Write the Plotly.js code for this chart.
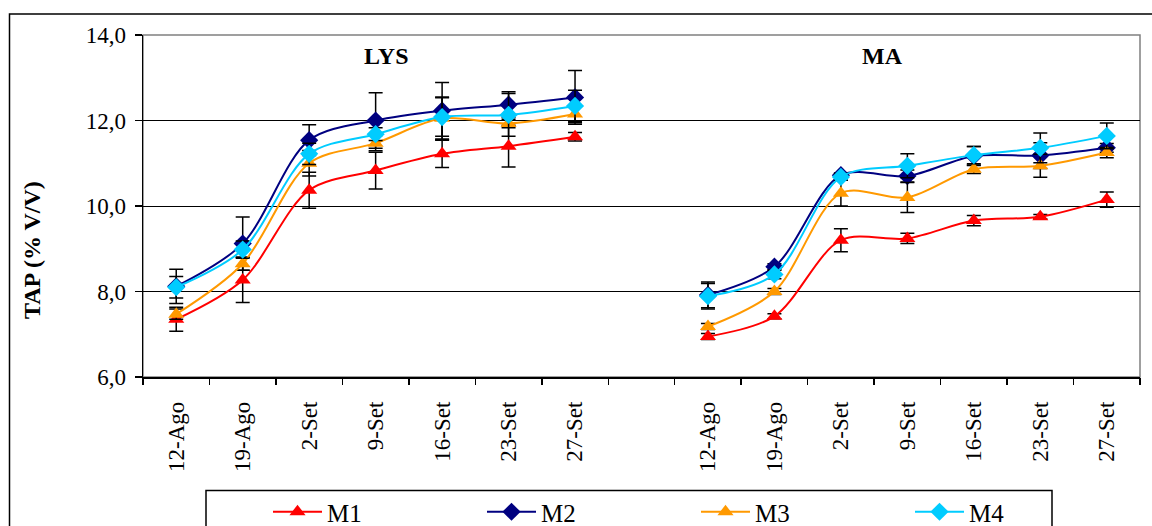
<!DOCTYPE html>
<html>
<head>
<meta charset="utf-8">
<script src="https://cdn.plot.ly/plotly-3.0.1.min.js"></script>
<style>
  html, body { margin: 0; padding: 0; background: #fff; }
  #chart { width: 1152px; height: 526px; }
</style>
</head>
<body>
<div id="chart"></div>
<script>
// Category labels (LYS block, empty separator, MA block)
const dates = ["12-Ago", "19-Ago", "2-Set", "9-Set", "16-Set", "23-Set", "27-Set"];
const groups = ["LYS", "MA"];
const seriesNames = ["M1", "M2", "M3", "M4"];

// LYS values
const lysM1 = [7.35, 8.27, 10.37, 10.83, 11.22, 11.40, 11.62];
const lysM2 = [8.12, 9.12, 11.54, 12.00, 12.23, 12.37, 12.54];
const lysM3 = [7.47, 8.65, 11.00, 11.47, 12.05, 11.93, 12.15];
const lysM4 = [8.10, 8.98, 11.22, 11.68, 12.08, 12.13, 12.34];
// LYS error (±)
const lysM1err = [0.28, 0.53, 0.42, 0.43, 0.32, 0.49, 0.10];
const lysM2err = [0.40, 0.62, 0.36, 0.65, 0.66, 0.30, 0.63];
const lysM3err = [0.12, 0.15, 0.30, 0.18, 0.50, 0.10, 0.20];
const lysM4err = [0.25, 0.20, 0.25, 0.15, 0.45, 0.50, 0.37];

// MA values
const maM1 = [6.95, 7.42, 9.20, 9.24, 9.66, 9.75, 10.15];
const maM2 = [7.92, 8.58, 10.72, 10.70, 11.17, 11.18, 11.36];
const maM3 = [7.18, 8.00, 10.30, 10.20, 10.86, 10.94, 11.25];
const maM4 = [7.89, 8.40, 10.68, 10.94, 11.19, 11.36, 11.64];
// MA error (±)
const maM1err = [0.07, 0.06, 0.27, 0.12, 0.12, 0.05, 0.18];
const maM2err = [0.30, 0.07, 0.05, 0.14, 0.22, 0.30, 0.10];
const maM3err = [0.07, 0.07, 0.30, 0.35, 0.10, 0.27, 0.12];
const maM4err = [0.30, 0.10, 0.08, 0.28, 0.20, 0.35, 0.30];

const yTicks = [6, 8, 10, 12, 14];

// x positions: 0..6 LYS, 7 gap, 8..14 MA
const n = dates.length;
const xPos = [];
for (let i = 0; i < n; i++) xPos.push(i);
xPos.push(n);
for (let i = 0; i < n; i++) xPos.push(n + 1 + i);
const tickVals = xPos.filter(v => v !== n);
const tickText = dates.concat(dates);
const boundaryTicks = [];
for (let i = 0; i <= 2 * n + 1; i++) boundaryTicks.push(i - 0.5);

function join(a, b) { return a.concat([null], b); }

const colors = ["#FF0000", "#000080", "#FF9900", "#00CCFF"];
const symbols = ["triangle-up", "diamond", "triangle-up", "diamond"];
const vals = [join(lysM1, maM1), join(lysM2, maM2), join(lysM3, maM3), join(lysM4, maM4)];
const errs = [join(lysM1err, maM1err), join(lysM2err, maM2err), join(lysM3err, maM3err), join(lysM4err, maM4err)];

const font = "'Liberation Serif', 'Times New Roman', Times, serif";

const traces = seriesNames.map((name, k) => ({
  type: "scatter",
  mode: "lines+markers",
  name: name,
  x: xPos,
  y: vals[k],
  connectgaps: false,
  line: { color: colors[k], width: 2, shape: "spline", smoothing: 0.9 },
  marker: { color: colors[k], symbol: symbols[k], size: 14 },
  error_y: { type: "data", array: errs[k], visible: true, color: "#000000", thickness: 1.5, width: 7 },
  xaxis: "x", yaxis: "y"
}));

// invisible trace carrying boundary tick axis
traces.push({
  type: "scatter", mode: "markers", x: [boundaryTicks[0]], y: [6], xaxis: "x2", yaxis: "y",
  marker: { opacity: 0 }, showlegend: false, hoverinfo: "skip"
});

const W = 997, H = 342, L = 143, T = 35;
const px = v => (v - L) / W;
const py = v => (T + H - v) / H;

const layout = {
  width: 1152, height: 526,
  margin: { l: 143, r: 12, t: 35, b: 149, autoexpand: false },
  paper_bgcolor: "#ffffff",
  plot_bgcolor: "#ffffff",
  separators: ",.",
  font: { family: font, color: "#000000", size: 23 },
  showlegend: true,
  xaxis: {
    range: [-0.5, 2 * n + 0.5],
    tickmode: "array", tickvals: tickVals, ticktext: tickText,
    tickangle: -90, ticks: "", showgrid: false, zeroline: false,
    showline: true, linecolor: "#000000", linewidth: 1.5,
    tickfont: { family: font, size: 23, color: "#000000" },
    ticklabelstandoff: 14, automargin: false
  },
  xaxis2: {
    overlaying: "x", range: [-0.5, 2 * n + 0.5],
    tickmode: "array", tickvals: boundaryTicks, showticklabels: false,
    ticks: "outside", ticklen: 7, tickwidth: 1.5, tickcolor: "#000000",
    showgrid: false, zeroline: false, showline: false, side: "bottom"
  },
  yaxis: {
    range: [6, 14], tickmode: "array", tickvals: yTicks, tickformat: ".1f",
    ticks: "outside", ticklen: 7, tickwidth: 1.5, tickcolor: "#000000",
    showline: true, linecolor: "#000000", linewidth: 1.5,
    showgrid: true, gridcolor: "#000000", gridwidth: 1, zeroline: false,
    tickfont: { family: font, size: 23, color: "#000000" },
    ticklabelstandoff: 4, automargin: false
  },
  legend: {
    orientation: "h", x: px(268), xanchor: "left", y: py(489), yanchor: "top",
    font: { family: font, size: 25, color: "#000000" },
    entrywidth: 150, entrywidthmode: "pixels", itemwidth: 49,
    bgcolor: "rgba(0,0,0,0)", borderwidth: 0
  },
  shapes: [
    { type: "rect", xref: "paper", yref: "paper", x0: 0, x1: 1, y0: 0, y1: 1,
      line: { color: "#808080", width: 1.5 }, layer: "below" },
    { type: "rect", xref: "paper", yref: "paper", x0: px(9.5), x1: px(1160), y0: py(540), y1: py(14),
      line: { color: "#000000", width: 1.5 }, layer: "below" },
    { type: "rect", xref: "paper", yref: "paper", x0: px(206), x1: px(1052), y0: py(540), y1: py(490.5),
      line: { color: "#000000", width: 1.5 }, layer: "below" }
  ],
  annotations: [
    { text: "<b>TAP (% V/V)</b>", xref: "paper", yref: "paper", x: px(32), y: py(250),
      xanchor: "center", yanchor: "middle", textangle: -90, showarrow: false,
      font: { family: font, size: 24, color: "#000000" } },
    { text: "<b>" + groups[0] + "</b>", xref: "paper", yref: "paper", x: px(386), y: py(56),
      xanchor: "center", yanchor: "middle", showarrow: false,
      font: { family: font, size: 24, color: "#000000" } },
    { text: "<b>" + groups[1] + "</b>", xref: "paper", yref: "paper", x: px(882), y: py(56),
      xanchor: "center", yanchor: "middle", showarrow: false,
      font: { family: font, size: 24, color: "#000000" } }
  ]
};

Plotly.newPlot("chart", traces, layout, { displayModeBar: false, staticPlot: true });
</script>
</body>
</html>
